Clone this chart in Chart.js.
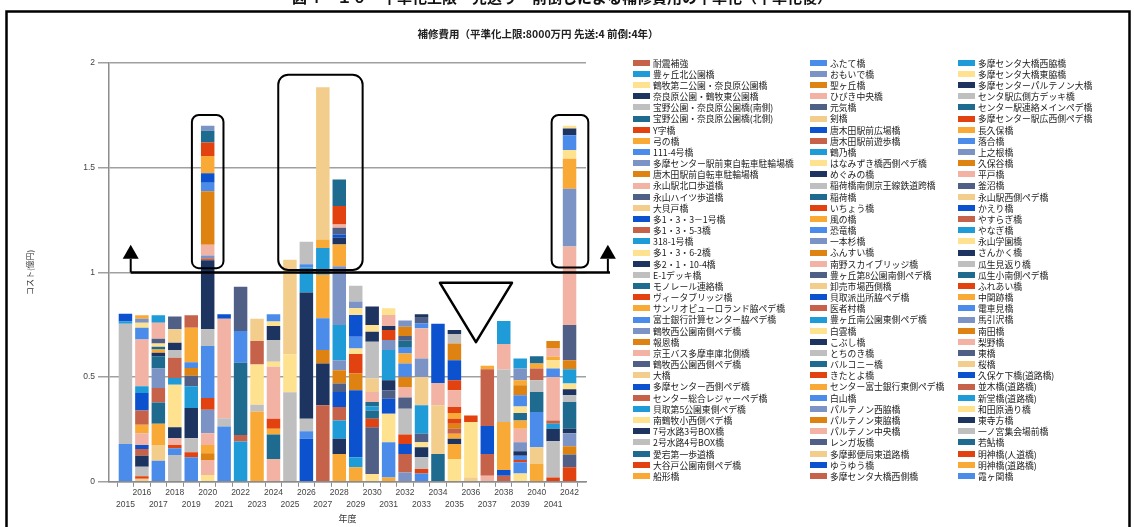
<!DOCTYPE html>
<html><head><meta charset="utf-8">
<script src="https://cdn.jsdelivr.net/npm/chart.js@4.4.0/dist/chart.umd.min.js"></script>
<style>html,body{margin:0;padding:0;background:#fff;}#wrap{width:1134px;height:527px;}</style>
</head><body><div id="wrap"><canvas id="c" width="1134" height="527"></canvas></div>
<script>
// ---- categories ----
const yearLabels = ['', '2015','2016','2017','2018','2019','2020','2021','2022','2023','2024','2025','2026','2027','2028','2029','2030','2031','2032','2033','2034','2035','2036','2037','2038','2039','2040','2041','2042', ''];
const yTicks = [0, 0.5, 1, 1.5, 2];

// ---- series (legend order) ----
const bridgeNames = [
'耐震補強','豊ヶ丘北公園橋','鶴牧第二公園・奈良原公園橋','奈良原公園・鶴牧東公園橋','宝野公園・奈良原公園橋(南側)','宝野公園・奈良原公園橋(北側)','Y字橋','弓の橋','111-4号橋','多摩センター駅前東自転車駐輪場橋','唐木田駅前自転車駐輪場橋','永山駅北口歩道橋','永山ハイツ歩道橋','大貝戸橋','多1・3・3－1号橋','多1・3・5-3橋','318-1号橋','多1・3・6-2橋','多2・1・10-4橋','E-1デッキ橋','モノレール連絡橋','ヴィータブリッジ橋','サンリオピューロランド脇ペデ橋','富士銀行計算センター脇ペデ橋','鶴牧西公園南側ペデ橋','報恩橋','京王バス多摩車庫北側橋','鶴牧西公園西側ペデ橋','大橋','多摩センター西側ペデ橋','センター総合レジャーペデ橋','貝取第5公園東側ペデ橋','南鶴牧小西側ペデ橋','7号水路3号BOX橋','2号水路4号BOX橋','愛宕第一歩道橋','大谷戸公園南側ペデ橋','船形橋',
'ふたて橋','おもいで橋','聖ヶ丘橋','ひびき中央橋','元気橋','剣橋','唐木田駅前広場橋','唐木田駅前遊歩橋','鶴乃橋','はなみずき橋西側ペデ橋','めぐみの橋','稲荷橋南側京王線鉄道跨橋','稲荷橋','いちょう橋','風の橋','恐竜橋','一本杉橋','ふんすい橋','南野スカイブリッジ橋','豊ヶ丘第8公園南側ペデ橋','卸売市場西側橋','貝取派出所脇ペデ橋','医者村橋','豊ヶ丘南公園東側ペデ橋','白雲橋','こぶし橋','とちのき橋','バルコニー橋','きたとよ橋','センター富士銀行東側ペデ橋','白山橋','パルテノン西脇橋','パルテノン東脇橋','パルテノン中央橋','レンガ坂橋','多摩郵便局東道路橋','ゆうゆう橋','多摩センタ大橋西側橋',
'多摩センタ大橋西脇橋','多摩センタ大橋東脇橋','多摩センターパルテノン大橋','センタ駅広側方デッキ橋','センター駅連絡メインペデ橋','多摩センター駅広西側ペデ橋','長久保橋','落合橋','上之根橋','久保谷橋','平戸橋','釜沼橋','永山駅西側ペデ橋','かえり橋','やすらぎ橋','やなぎ橋','永山学園橋','さんかく橋','瓜生見返り橋','瓜生小南側ペデ橋','ふれあい橋','中関跡橋','電車見橋','馬引沢橋','南田橋','梨野橋','東橋','桜橋','久保ケ下橋(道路橋)','並木橋(道路橋)','新堂橋(道路橋)','和田原通り橋','東寺方橋','一ノ宮集会場前橋','若鮎橋','明神橋(人道橋)','明神橋(道路橋)','霞ヶ関橋'
];
const palette = ['#c6614a','#1f9bd8','#fee28f','#1d3461','#bfbfbf','#1e6b8f','#e2420f','#f9a935','#4b8bea','#7c93c5','#de8212','#f2b3a4','#4f5f85','#f2cd8c','#0c52cf'];

// ---- values per year: [series index, cost (億円)], bottom to top ----
const y2015 = [[113,.181],[109,.574],[106,.011],[104,.037]];
const y2016 = [[103,.014],[96,.013],[94,.045],[93,.053],[90,.032],[89,.019],[86,.056],[82,.040],[75,.069],[74,.083],[61,.032],[56,.224],[53,.056],[47,.024],[39,.019],[37,.016]];
const y2017 = [[113,.101],[103,.075],[97,.101],[95,.102],[90,.069],[84,.093],[80,.059],[78,.016],[67,.016],[65,.013],[62,.016],[57,.022],[56,.077],[46,.035]];
const y2018 = [[109,.128],[98,.032],[96,.016],[86,.032],[78,.053],[77,.203],[76,.032],[75,.096],[64,.037],[63,.035],[58,.064],[57,.061]];
const y2019 = [[113,.117],[111,.024],[109,.067],[108,.144],[106,.104],[102,.051],[100,.037],[98,.027],[97,.165],[90,.059]];
const y2020 = [[107,.032],[101,.072],[100,.032],[97,.040],[86,.056],[84,.112],[81,.056],[68,.248],[64,.080],[63,.330],[60,.010],[54,.013],[41,.051],[40,.256],[38,.040],[29,.045],[22,.083],[21,.064],[20,.056],[9,.024]];
const y2021 = [[113,.264],[109,.040],[101,.475],[89,.021]];
const y2022 = [[106,.192],[105,.032],[95,.344],[83,.152],[72,.211]];
const y2023 = [[112,.336],[109,.032],[107,.192],[105,.112],[103,.107]];
const y2024 = [[101,.109],[95,.117],[82,.027],[81,.048],[71,.248],[62,.024],[49,.104],[48,.067],[47,.021],[38,.035]];
const y2025 = [[109,.428],[107,.181],[103,.451]];
const y2026 = [[104,.205],[98,.037],[94,.059],[93,.603],[91,.119],[83,.016],[79,.107]];
const y2027 = [[105,.365],[93,.200],[85,.064],[83,.152],[82,.208],[76,.128],[67,.040],[58,.727]];
const y2028 = [[112,.133],[108,.072],[106,.088],[105,.064],[104,.072],[102,.040],[100,.064],[99,.048],[91,.168],[84,.280],[82,.104],[78,.032],[74,.016],[72,.032],[71,.016],[66,.088],[65,.127]];
const y2029 = [[112,.069],[106,.048],[104,.320],[100,.080],[96,.093],[92,.027],[83,.056],[74,.104],[62,.032],[54,.032],[49,.075]];
const y2030 = [[107,.037],[102,.224],[96,.040],[95,.040],[91,.019],[80,.021],[71,.048],[58,.064],[49,.176],[48,.048],[47,.032],[33,.088]];
const y2031 = [[112,.021],[98,.168],[92,.136],[89,.072],[87,.040],[78,.048],[76,.144],[69,.048],[66,.048],[63,.019],[56,.053],[47,.032]];
const y2032 = [[99,.045],[90,.088],[89,.048],[81,.045],[79,.123],[72,.053],[71,.051],[70,.048],[68,.064],[67,.048],[53,.027],[50,.034],[42,.022],[40,.045],[39,.029]];
const y2033 = [[113,.040],[111,.021],[109,.056],[108,.048],[107,.024],[102,.040],[91,.136],[88,.136],[84,.088],[71,.144],[68,.024],[57,.027],[48,.016]];
const y2034 = [[110,.133],[103,.232],[101,.107],[89,.283]];
const y2035 = [[107,.109],[97,.072],[93,.024],[82,.024],[75,.024],[70,.024],[66,.024],[52,.027],[51,.029],[41,.080],[36,.048],[29,.096],[25,.080],[19,.045],[18,.019]];
const y2036 = [[103,.021],[92,.264],[81,.032]];
const y2037 = [[101,.029],[90,.104],[89,.133],[75,.272],[67,.016]];
const y2038 = [[105,.029],[104,.027],[97,.229],[94,.251],[86,.122],[76,.110]];
const y2039 = [[107,.040],[98,.053],[96,.011],[83,.021],[78,.021],[69,.043],[56,.064],[52,.040],[50,.035],[47,.032],[38,.053],[25,.048],[22,.024],[9,.056],[1,.048]];
const y2040 = [[112,.085],[103,.080],[98,.168],[95,.096],[94,.056],[90,.056],[82,.024],[80,.035]];
const y2041 = [[111,.021],[109,.173],[108,.059],[106,.024],[105,.016],[101,.208],[98,.040],[92,.040],[82,.016],[71,.040],[70,.035]];
const y2042 = [[111,.069],[102,.061],[100,.040],[99,.062],[93,.021],[80,.128],[79,.032],[78,.029],[77,.027],[76,.069],[70,.043],[57,.168],[56,.375],[54,.275],[52,.144],[47,.042],[38,.070],[33,.032],[32,.013]];
const stacksByYear = [y2015,y2016,y2017,y2018,y2019,y2020,y2021,y2022,y2023,y2024,y2025,y2026,y2027,y2028,y2029,y2030,y2031,y2032,y2033,y2034,y2035,y2036,y2037,y2038,y2039,y2040,y2041,y2042];

// ---- build datasets (series 0 drawn on top of each stack) ----
const datasets = bridgeNames.map((name, s) => ({
  label: name,
  data: yearLabels.map(() => null),
  backgroundColor: palette[s % 15],
  borderWidth: 0,
  order: bridgeNames.length - 1 - s,
  stack: 'cost'
}));
stacksByYear.forEach((segs, k) => {
  const idx = yearLabels.indexOf(String(2015 + k));
  segs.forEach(([s, v]) => { datasets[s].data[idx] = v; });
});

// ---- annotation shapes in data units (year, 億円) ----
const boxes = [
  {x0: 2019.04, x1: 2020.96, y0: 1.02, y1: 1.752, r: 7},
  {x0: 2024.29, x1: 2029.42, y0: 1.012, y1: 1.944, r: 10},
  {x0: 2040.91, x1: 2043.14, y0: 1.023, y1: 1.752, r: 7}
];
const limitLine = {y: 1.0, x0: 2015.32, x1: 2044.46, arrowsAt: [2015.32, 2044.33], tip: 1.132, base: 1.065};
const triangle = [[2034.12, 0.95], [2038.5, 0.95], [2036.31, 0.667]];

const FONT_JP = '"Noto Sans CJK JP", sans-serif';

const decor = {
  id: 'decor',
  afterDatasetsDraw(chart) {
    const {ctx, scales: {x, y}} = chart;
    const px = yr => x.getPixelForValue(yr - 2014);
    const py = v => y.getPixelForValue(v);
    ctx.save();
    ctx.strokeStyle = '#000';
    ctx.lineJoin = 'round';
    ctx.lineWidth = 2;
    boxes.forEach(b => {
      const l = px(b.x0), r = px(b.x1), t = py(b.y1), bt = py(b.y0);
      ctx.beginPath();
      ctx.roundRect(l, t, r - l, bt - t, b.r);
      ctx.stroke();
    });
    ctx.lineWidth = 2.5;
    ctx.beginPath();
    ctx.moveTo(px(limitLine.x0), py(limitLine.y));
    ctx.lineTo(px(limitLine.x1), py(limitLine.y));
    ctx.stroke();
    ctx.lineWidth = 2;
    limitLine.arrowsAt.forEach(a => {
      const ax = px(a);
      ctx.beginPath();
      ctx.moveTo(ax, py(limitLine.y));
      ctx.lineTo(ax, py(limitLine.base));
      ctx.stroke();
      ctx.beginPath();
      ctx.moveTo(ax, py(limitLine.tip));
      ctx.lineTo(ax - 8, py(limitLine.base));
      ctx.lineTo(ax + 8, py(limitLine.base));
      ctx.closePath();
      ctx.fillStyle = '#000';
      ctx.fill();
    });
    ctx.lineWidth = 2.5;
    ctx.beginPath();
    triangle.forEach(([tx, ty], i) => { i ? ctx.lineTo(px(tx), py(ty)) : ctx.moveTo(px(tx), py(ty)); });
    ctx.closePath();
    ctx.stroke();
    ctx.restore();
  },
  afterDraw(chart) {
    const ctx = chart.ctx;
    ctx.save();
    ctx.strokeStyle = '#000';
    ctx.lineWidth = 2.5;
    ctx.strokeRect(6.5, 11.5, 1123, 530);
    ctx.fillStyle = '#111';
    ctx.font = 'bold 15px ' + FONT_JP;
    ctx.textAlign = 'center';
    ctx.textBaseline = 'alphabetic';
    ctx.fillText('図４－１０　平準化上限・先送り・前倒しによる補修費用の平準化（平準化後）', 562, 2.5);
    const colSwatch = [633, 810, 958];
    ctx.font = '8.8px ' + FONT_JP;
    ctx.textAlign = 'left';
    ctx.textBaseline = 'middle';
    chart.data.datasets.forEach((ds, s) => {
      const col = Math.floor(s / 38), row = s % 38;
      const sx = colSwatch[col], cy = 62.7 + row * 11.17;
      ctx.fillStyle = ds.backgroundColor;
      ctx.fillRect(sx, Math.round(cy - 3), 17, 6);
      ctx.fillStyle = '#1a1a1a';
      ctx.fillText(ds.label, sx + 20, cy + 0.5);
    });
    ctx.restore();
  }
};

new Chart(document.getElementById('c'), {
  type: 'bar',
  data: {labels: yearLabels, datasets},
  plugins: [decor],
  options: {
    responsive: false,
    animation: false,
    devicePixelRatio: 1,
    datasets: {bar: {categoryPercentage: 1, barPercentage: 0.82}},
    layout: {padding: {left: 0, right: 58, top: 0, bottom: 0}},
    plugins: {
      legend: {display: false},
      tooltip: {enabled: false},
      title: {
        display: true,
        text: '補修費用（平準化上限:8000万円 先送:4 前倒:4年）',
        color: '#222',
        font: {family: FONT_JP, size: 10.5, weight: 'bold'},
        padding: {top: 28, bottom: 22.4}
      }
    },
    scales: {
      x: {
        stacked: true,
        offset: false,
        grid: {display: true, drawOnChartArea: false, drawTicks: true, tickLength: 5, color: '#8c8c8c', lineWidth: 1},
        border: {display: true, color: '#8c8c8c', width: 1.5},
        ticks: {
          autoSkip: false, maxRotation: 0, minRotation: 0, padding: 0,
          color: '#444', font: {family: '"Liberation Sans", sans-serif', size: 8.5, lineHeight: 1.4},
          callback(v) {
            const lab = this.getLabelForValue(v);
            if (!lab) return '';
            return (+lab % 2 === 0) ? [lab] : ['', lab];
          }
        },
        title: {display: true, text: '年度', color: '#333', font: {family: FONT_JP, size: 9}, padding: {top: 3, bottom: 2.6}}
      },
      y: {
        stacked: true,
        min: 0, max: 2,
        afterBuildTicks(s) { s.ticks = yTicks.map(v => ({value: v})); },
        grid: {color: '#a0a0a0', lineWidth: 1.5, tickLength: 11},
        border: {display: true, color: '#8c8c8c', width: 1.5},
        ticks: {color: '#444', padding: 3, font: {family: '"Liberation Sans", sans-serif', size: 8.5},
          callback(v) { return String(v); }},
        title: {display: true, text: 'コスト(億円)', color: '#333', font: {family: FONT_JP, size: 8}, padding: {top: 25, bottom: 0}},
        afterFit(s) { s.width = 109; }
      },
      yR: {
        type: 'linear', position: 'right', display: true,
        grid: {display: false, drawTicks: false},
        border: {display: false},
        ticks: {display: false},
        afterFit(s) { s.width = 490; }
      }
    }
  }
});
</script>
</body></html>
